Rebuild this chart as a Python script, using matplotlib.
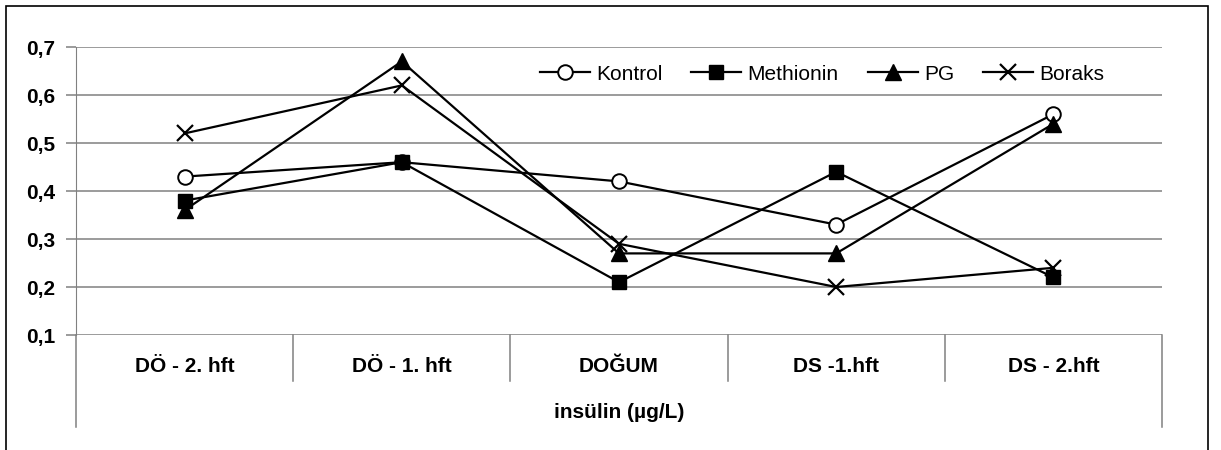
import matplotlib.pyplot as plt
from matplotlib.patches import Rectangle
from matplotlib.lines import Line2D
import matplotlib.transforms as mtransforms

plt.rcParams['font.family'] = ['Liberation Sans', 'DejaVu Sans']

# insülin değerleri (µg/L)
haftalar = ["DÖ - 2. hft", "DÖ - 1. hft", "DOĞUM", "DS -1.hft", "DS - 2.hft"]
kontrol = [0.43, 0.46, 0.42, 0.33, 0.56]
methionin = [0.38, 0.46, 0.21, 0.44, 0.22]
pg = [0.36, 0.67, 0.27, 0.27, 0.54]
boraks = [0.52, 0.62, 0.29, 0.20, 0.24]
yticks = [0.1, 0.2, 0.3, 0.4, 0.5, 0.6, 0.7]
ylabels = ["0,1", "0,2", "0,3", "0,4", "0,5", "0,6", "0,7"]

W, H = 1221, 450
fig = plt.figure(figsize=(W / 100, H / 100), dpi=100)
ax = fig.add_axes([76 / W, 1 - 335 / H, (1162 - 76) / W, (335 - 47) / H])

x = list(range(len(haftalar)))
lw = 1.6
ax.plot(x, kontrol, color='black', lw=lw, marker='o', ms=10.5, mfc='white', mec='black', mew=1.4, label='Kontrol')
ax.plot(x, methionin, color='black', lw=lw, marker='s', ms=10, mfc='black', mec='black', label='Methionin')
ax.plot(x, pg, color='black', lw=lw, marker='^', ms=11, mfc='black', mec='black', label='PG')
ax.plot(x, boraks, color='black', lw=lw, marker='x', ms=11, mew=1.6, label='Boraks')

ax.set_xlim(-0.5, len(haftalar) - 0.5)
ax.set_ylim(0.1, 0.7)
ax.set_yticks(yticks)
ax.set_yticklabels(ylabels, fontsize=15, fontweight='bold')
ax.set_xticks([])
ax.yaxis.grid(True, color='#808080', lw=1.1)
ax.set_axisbelow(True)
for s in ['top', 'right', 'bottom']:
    ax.spines[s].set_visible(False)
ax.spines['left'].set_color('#808080')
ax.tick_params(axis='y', length=7, width=1.1, color='#808080', pad=8)

# kategori ekseni (grafiğin altında)
trans = mtransforms.blended_transform_factory(ax.transData, fig.transFigure)
y0 = 1 - 335 / H
y_cat = 1 - 381 / H
y_end = 1 - 427 / H
lc = '#808080'
fig.add_artist(Line2D([-0.5, -0.5], [y0, y_end], transform=trans, color=lc, lw=1.1))
fig.add_artist(Line2D([4.5, 4.5], [y0, y_end], transform=trans, color=lc, lw=1.1))
for b in [0.5, 1.5, 2.5, 3.5]:
    fig.add_artist(Line2D([b, b], [y0, y_cat], transform=trans, color=lc, lw=1.1))
for i, h in enumerate(haftalar):
    fig.text(i, 1 - 367 / H, h, transform=trans, ha='center', va='center',
             fontsize=15, fontweight='bold')
fig.text(2, 1 - 412 / H, "insülin (µg/L)", transform=trans, ha='center', va='center',
         fontsize=15, fontweight='bold')

ax.legend(loc='center', bbox_to_anchor=(0.687, 0.906), ncol=4, frameon=False,
          fontsize=15, handlelength=2.4, handletextpad=0.3, columnspacing=1.4)

# dış çerçeve
fig.add_artist(Rectangle((6 / W, -0.1), (1208 - 6) / W, 1.1 - 6 / H, transform=fig.transFigure,
                         fill=False, ec='black', lw=1.2))

fig.savefig('out.png', dpi=100)
